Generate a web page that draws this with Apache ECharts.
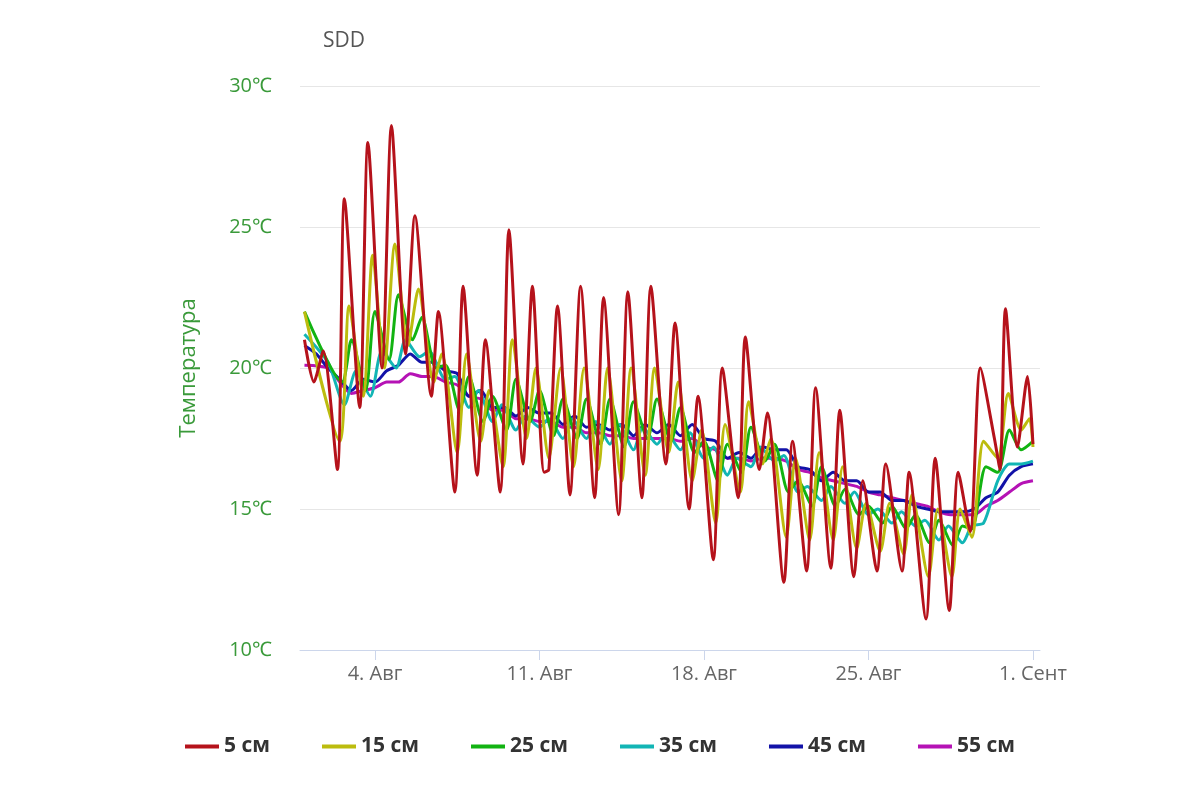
<!DOCTYPE html>
<html>
<head>
<meta charset="utf-8">
<script src="https://cdn.jsdelivr.net/npm/echarts@6/dist/echarts.min.js"></script>
<style>html,body{margin:0;background:#fff}#chart{width:1200px;height:800px}</style>
</head>
<body>
<div id="chart"></div>
<script>
// x = days since 1 Aug 00:00
const tickDays = [3, 10, 17, 24, 31];
const tickLabels = ['4. Авг', '11. Авг', '18. Авг', '25. Авг', '1. Сент'];
const seriesNames = ['5 см', '15 см', '25 см', '35 см', '45 см', '55 см'];
const colors = ['#b5121b', '#bcbc0e', '#12b312', '#12b5b5', '#1212a8', '#b512b5'];

const t5 = [[0,21],[0.4,19.5],[0.8,20.6],[1.4,16.4],[1.7,26],[2.35,18.6],[2.7,28],[3.3,20],[3.7,28.6],[4.3,20.5],[4.7,25.4],[5.4,19],[5.7,22],[6.4,15.6],[6.75,22.9],[7.35,16.2],[7.7,21],[8.33,15.6],[8.7,24.9],[9.3,16.6],[9.7,22.9],[10.2,16.3],[10.4,16.4],[10.77,22.2],[11.3,15.5],[11.75,22.9],[12.35,15.4],[12.73,22.5],[13.37,14.8],[13.76,22.7],[14.36,15.4],[14.74,22.9],[15.38,16.6],[15.77,21.6],[16.37,15],[16.75,19],[17.4,13.2],[17.78,20],[18.46,15.4],[18.76,21.1],[19.36,16.4],[19.7,18.4],[20.4,12.4],[20.77,17.4],[21.37,12.8],[21.75,19.3],[22.4,12.9],[22.78,18.5],[23.38,12.6],[23.76,16],[24.36,12.8],[24.74,16.6],[25.43,12.8],[25.73,16.3],[26.45,11.1],[26.84,16.8],[27.44,11.4],[27.82,16.3],[28.33,14.2],[28.76,20],[29.36,17.5],[29.6,16.4],[29.83,22.1],[30.34,17.2],[30.77,19.7],[31,17.3]];
const t15 = [[0,22],[1.5,17.4],[1.9,22.2],[2.5,19],[2.9,24],[3.4,20],[3.85,24.4],[4.4,20.8],[4.85,22.8],[5.5,19.5],[5.85,20.5],[6.5,17],[6.9,20.5],[7.5,17.4],[7.85,19.2],[8.45,16.5],[8.85,21],[9.45,17.5],[9.85,20],[10.4,16.8],[10.9,20],[11.45,16.5],[11.9,20],[12.5,16.4],[12.9,20],[13.5,16],[13.9,20],[14.5,16.2],[14.9,20],[15.5,17],[15.9,19.5],[16.5,16],[16.9,17.8],[17.5,14.5],[17.9,18],[18.55,15.6],[18.9,18.8],[19.5,16.6],[19.85,17.5],[20.5,14],[20.9,16.8],[21.5,13.9],[21.9,17],[22.5,13.9],[22.9,16.5],[23.5,13.6],[23.9,15.2],[24.5,13.5],[24.9,15.2],[25.5,13.4],[25.85,15.5],[26.55,12.6],[26.95,15],[27.55,12.6],[27.9,15],[28.4,14],[28.9,17.4],[29.5,16.8],[29.95,19.1],[30.5,17.8],[30.85,18.2],[31,17.2]];
const t25 = [[0,22],[1.6,19.5],[2,21],[2.6,19.2],[3,22],[3.6,20.3],[4,22.6],[4.6,21],[5,21.8],[5.6,20],[6,20.1],[6.6,18.5],[7,19.7],[7.6,18.1],[8,19],[8.6,17.8],[9,19.6],[9.6,18.1],[10,19.2],[10.6,17.6],[11,18.9],[11.6,17.5],[12,18.9],[12.6,17.3],[13,18.9],[13.6,17.2],[14,18.8],[14.6,17.5],[15,18.9],[15.6,17.4],[16,18.6],[16.6,17],[17,17.4],[17.6,16],[18,17.3],[18.6,16.3],[19,17.9],[19.6,16.7],[20,17.3],[20.6,15.6],[21,16],[21.6,15.1],[22,16.5],[22.6,15.1],[23,15.7],[23.6,14.8],[24,15.1],[24.6,14.5],[25,15.1],[25.6,14.3],[26,14.8],[26.6,13.8],[27,14.6],[27.6,13.7],[28,14.4],[28.4,14.3],[29,16.5],[29.5,16.3],[30,17.8],[30.5,17.1],[31,17.4]];
const t35 = [[0,21.2],[1,20.2],[1.7,18.7],[2.2,19.9],[2.8,19],[3.3,20.6],[3.9,20],[4.3,21],[4.9,20.4],[5.3,20.6],[6,19.6],[6.4,19.7],[7,18.6],[7.4,19.2],[8,18.1],[8.4,18.7],[9,17.8],[9.4,18.3],[10,17.9],[10.4,18.2],[11,17.5],[11.4,18.2],[12,17.5],[12.4,18.1],[13,17.3],[13.4,18],[14,17.1],[14.4,17.9],[15,17.3],[15.4,17.7],[16,17.1],[16.4,17.7],[17,16.8],[17.4,17.2],[18,16.2],[18.4,16.8],[19,16.5],[19.4,17.2],[20,16.7],[20.4,16.9],[21,15.6],[21.4,15.8],[22,15.3],[22.4,15.8],[23,15.2],[23.4,15.6],[24,14.8],[24.4,15],[25,14.5],[25.4,14.9],[26,14.4],[26.4,14.6],[27,13.9],[27.4,14.4],[28,13.8],[28.4,14.4],[28.9,14.5],[29.5,16],[30,16.6],[30.5,16.6],[31,16.7]];
const t45 = [[0,20.8],[0.5,20.5],[1,20],[1.5,19.6],[2,19.2],[2.5,19.6],[3,19.5],[3.5,19.9],[4,20.1],[4.5,20.5],[5,20.2],[5.5,20.2],[6,19.9],[6.5,19.8],[7,19],[7.5,19.2],[8,18.6],[8.5,18.6],[9,18.3],[9.5,18.6],[10,18.4],[10.5,18.4],[11,18],[11.5,18.3],[12,17.9],[12.5,18],[13,17.8],[13.5,18],[14,17.6],[14.5,18],[15,17.7],[15.5,18],[16,17.6],[16.5,18],[17,17.5],[17.5,17.4],[18,16.8],[18.5,17],[19,16.8],[19.5,17.2],[20,17.1],[20.5,17.1],[21,16.5],[21.5,16.4],[22,16],[22.5,16.3],[23,16],[23.5,16],[24,15.6],[24.5,15.6],[25,15.3],[25.5,15.3],[26,15.1],[26.5,15],[27,14.9],[27.5,14.9],[28,14.9],[28.5,15],[29,15.4],[29.5,15.6],[30,16.2],[30.5,16.5],[31,16.6]];
const t55 = [[0,20.1],[1,20],[1.5,19.5],[2,19.1],[2.5,19.2],[3,19.3],[3.5,19.5],[4,19.5],[4.5,19.8],[5,19.7],[5.5,19.7],[6,19.5],[6.5,19.4],[7,19],[7.5,18.9],[8,18.5],[8.5,18.5],[9,18.2],[9.5,18.2],[10,18.1],[10.5,18.1],[11,17.9],[11.5,17.9],[12,17.7],[12.5,17.7],[13,17.6],[13.5,17.6],[14,17.5],[14.5,17.5],[15,17.5],[15.5,17.5],[16,17.4],[16.5,17.5],[17,17.2],[17.5,17.1],[18,16.8],[18.5,16.8],[19,16.7],[19.5,16.8],[20,16.8],[20.5,16.7],[21,16.4],[21.5,16.3],[22,16.1],[22.5,16],[23,15.9],[23.5,15.8],[24,15.6],[24.5,15.5],[25,15.4],[25.5,15.3],[26,15.2],[26.5,15.1],[27,14.9],[27.5,14.8],[28,14.8],[28.5,14.8],[29,15.1],[29.5,15.3],[30,15.6],[30.5,15.9],[31,16]];
const allData = [t5, t15, t25, t35, t45, t55];

const chart = echarts.init(document.getElementById('chart'));
chart.setOption({
  animation: false,
  color: colors,
  title: { text: 'SDD', left: 318, top: 26, textStyle: { color: '#555', fontSize: 21, fontWeight: 'normal', fontFamily: 'Open Sans' } },
  grid: { left: 300, right: 160, top: 86, bottom: 150 },
  legend: {
    bottom: 38, left: 'center', itemGap: 52, itemWidth: 34, itemHeight: 4,
    icon: 'rect',
    textStyle: { color: '#333', fontSize: 21, fontWeight: 'bold', fontFamily: 'Open Sans' },
    data: seriesNames
  },
  xAxis: {
    type: 'value', min: -0.19, max: 31.3,
    splitLine: { show: false },
    axisLine: { lineStyle: { color: '#ccd6eb' } },
    axisTick: { show: true, customValues: tickDays, length: 10, lineStyle: { color: '#ccd6eb' } },
    axisLabel: {
      customValues: tickDays, color: '#666', fontSize: 20, fontFamily: 'Open Sans', margin: 14,
      formatter: v => tickLabels[tickDays.indexOf(v)]
    }
  },
  yAxis: {
    type: 'value', min: 10, max: 30, interval: 5,
    name: 'Температура', nameLocation: 'middle', nameGap: 100, nameRotate: 90,
    nameTextStyle: { color: '#3a9a3a', fontSize: 22, fontFamily: 'Open Sans' },
    axisLine: { show: false }, axisTick: { show: false },
    splitLine: { lineStyle: { color: '#e6e6e6' } },
    axisLabel: { color: '#3a9a3a', fontSize: 20, fontFamily: 'Open Sans', margin: 28, formatter: '{value}℃' }
  },
  series: seriesNames.map((n, i) => ({
    name: n, type: 'line', data: allData[i], smooth: 0.25, showSymbol: false,
    lineStyle: { width: 3 }, z: 10 - i
  }))
});
</script>
</body>
</html>
